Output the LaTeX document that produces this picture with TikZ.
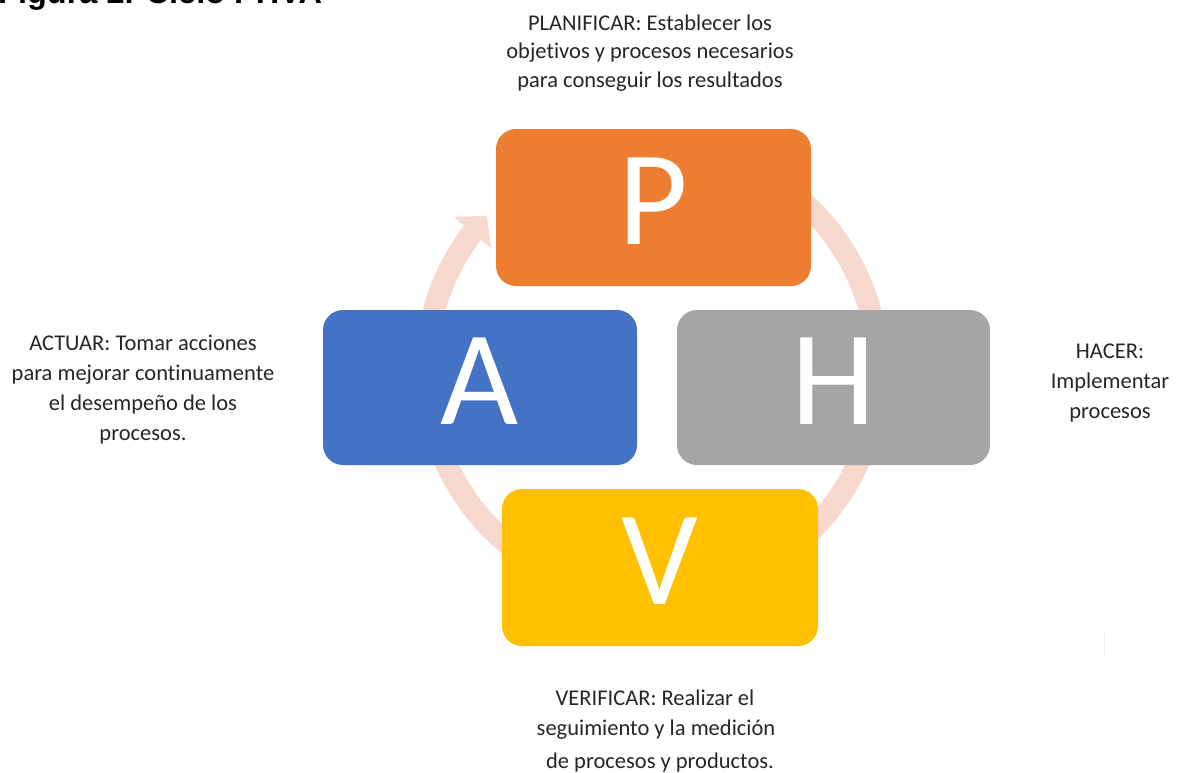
\documentclass[tikz,border=0pt]{standalone}
\usepackage{fontspec}
\setmainfont{Carlito}[Ligatures=NoCommon]
\newfontfamily\titlefont{Liberation Sans}
\usetikzlibrary{arrows.meta,bending}
\definecolor{cOrange}{HTML}{ED7D31}
\definecolor{cBlue}{HTML}{4472C4}
\definecolor{cGray}{HTML}{A5A5A5}
\definecolor{cYellow}{HTML}{FFC000}
\definecolor{cBand}{HTML}{F7D8CD}
\definecolor{cText}{HTML}{262626}
\tikzset{
  phvabox/.style={rectangle, rounded corners=20pt, inner sep=0pt, text=white,
    font=\fontsize{135}{135}\selectfont, text depth=12pt},
  lbl/.style={anchor=base, inner sep=0pt, text=cText, font=\fontsize{22.5}{26}\selectfont},
}
\begin{document}
\begin{tikzpicture}[x=1pt,y=-1pt]
\useasboundingbox (0,0) rectangle (1181,772);
% title (cut off at top, as in the reference)
\node[anchor=base west, inner sep=0pt, font=\titlefont\bfseries\fontsize{32.5}{32.5}\selectfont] (title) at (-2,3) {Figura 2. Ciclo PHVA};
% cycle band
\coordinate (cc) at (652,370);
\draw[cBand, line width=22pt, -{Triangle[width=48pt,length=22pt]}]
  ([shift={(80:226pt)}]cc) arc[start angle=80, end angle=-223, radius=226pt];
% boxes
\node[phvabox, fill=cOrange, minimum width=315pt, minimum height=157pt] (P) at (653.5,207.5) {P};
\node[phvabox, fill=cBlue, minimum width=314pt, minimum height=155pt] (A) at (480,387.5) {A};
\node[phvabox, fill=cGray, minimum width=313pt, minimum height=155pt] (H) at (833.5,387.5) {H};
\node[phvabox, fill=cYellow, minimum width=316pt, minimum height=157pt] (V) at (660,567.5) {V};
% labels
\node[lbl] (p1) at (650,30) {PLANIFICAR: Establecer los};
\node[lbl] (p2) at (650,58.5) {objetivos y procesos necesarios};
\node[lbl] (p3) at (650,87) {para conseguir los resultados};
\node[lbl] (a1) at (143,350) {ACTUAR: Tomar acciones};
\node[lbl] (a2) at (143,380) {para mejorar continuamente};
\node[lbl] (a3) at (143,410) {el desempeño de los};
\node[lbl] (a4) at (143,440) {procesos.};
\node[lbl] (h1) at (1110,358) {HACER:};
\node[lbl] (h2) at (1110,388) {Implementar};
\node[lbl] (h3) at (1110,418) {procesos};
\node[lbl] (v1) at (655,705) {VERIFICAR: Realizar el};
\node[lbl] (v2) at (656,735) {seguimiento y la medición};
\node[lbl] (v3) at (660,768) {de procesos y productos.};
% faint mark
\coordinate (m1) at (1104,633);
\coordinate (m2) at (1104,655);
\draw[black!8, line width=1pt] (m1) -- (m2);
\end{tikzpicture}
\end{document}
